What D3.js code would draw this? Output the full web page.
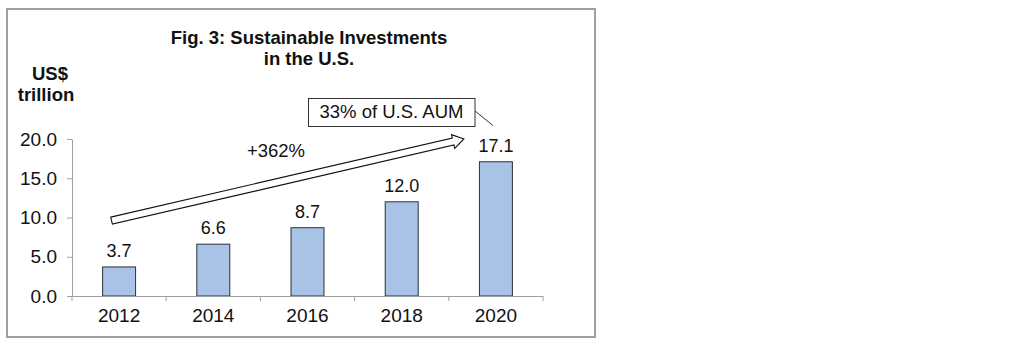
<!DOCTYPE html>
<html>
<head>
<meta charset="utf-8">
<script src="https://cdn.jsdelivr.net/npm/d3@7"></script>
<style>
  html, body { margin: 0; padding: 0; background: #fff; }
  svg { display: block; }
  text { font-family: "Liberation Sans", Arial, Helvetica, sans-serif; fill: #111; }
</style>
</head>
<body>
<svg id="chart" width="1024" height="346"></svg>
<script>
// ---- data ----
const categories = ["2012", "2014", "2016", "2018", "2020"];
const values = [3.7, 6.6, 8.7, 12.0, 17.1];
const yTicks = [0, 5, 10, 15, 20];
const titleLines = ["Fig. 3: Sustainable Investments", "in the U.S."];
const unitLines = ["US$", "trillion"];
const growthLabel = "+362%";
const calloutLabel = "33% of U.S. AUM";
// annotation anchors in data units: [category position (0 = left edge, in steps), value]
const arrowFrom = [0.42, 9.6];
const arrowTo = [4.16, 20.0];
const calloutLineTo = [4.47, 21.7];

// ---- layout ----
const svg = d3.select("#chart");
const plot = { left: 72, right: 543, top: 139, bottom: 296 };

// frame
svg.append("rect")
  .attr("x", 7).attr("y", 9).attr("width", 588).attr("height", 328)
  .attr("fill", "#fff").attr("stroke", "#a0a0a0").attr("stroke-width", 2);

const x = d3.scaleBand().domain(categories)
  .range([plot.left, plot.right]).paddingInner(0.65).paddingOuter(0.325);
const y = d3.scaleLinear().domain([0, 20]).range([plot.bottom, plot.top]);
const xPos = d3.scaleLinear().domain([0, categories.length]).range([plot.left, plot.right]);

// title
svg.append("g").selectAll("text").data(titleLines).join("text")
  .attr("x", 309).attr("y", (d, i) => 43.5 + i * 21)
  .attr("text-anchor", "middle").attr("font-size", 18.5).attr("font-weight", "bold")
  .text(d => d);

// unit label
svg.append("g").selectAll("text").data(unitLines).join("text")
  .attr("x", (d, i) => i === 0 ? 50 : 46).attr("y", (d, i) => 80 + i * 21)
  .attr("text-anchor", "middle").attr("font-size", 18.5).attr("font-weight", "bold")
  .text(d => d);

// y axis
const yAxis = svg.append("g").attr("transform", `translate(${plot.left},0)`)
  .call(d3.axisLeft(y).tickValues(yTicks).tickFormat(d3.format(".1f"))
    .tickSize(5).tickSizeOuter(0).tickPadding(10));
yAxis.select(".domain").attr("stroke", "#a0a0a0");
yAxis.selectAll(".tick line").attr("stroke", "#a0a0a0");
yAxis.selectAll("text").attr("font-size", 19).attr("fill", "#111")
  .attr("font-family", "'Liberation Sans', Arial, sans-serif");

// bars
svg.append("g").selectAll("rect").data(values).join("rect")
  .attr("x", (d, i) => x(categories[i]))
  .attr("y", d => y(d))
  .attr("width", x.bandwidth())
  .attr("height", d => y(0) - y(d))
  .attr("fill", "#a9c3e6").attr("stroke", "#2a2f3a").attr("stroke-width", 1);

// value labels
svg.append("g").selectAll("text").data(values).join("text")
  .attr("x", (d, i) => x(categories[i]) + x.bandwidth() / 2)
  .attr("y", d => y(d) - 10)
  .attr("text-anchor", "middle").attr("font-size", 18)
  .text(d => d3.format(".1f")(d));

// x axis
const xAxis = svg.append("g").attr("transform", `translate(0,${plot.bottom})`)
  .call(d3.axisBottom(x).tickSize(0).tickPadding(13));
xAxis.select(".domain").remove();
xAxis.selectAll("text").attr("font-size", 19).attr("fill", "#111")
  .attr("font-family", "'Liberation Sans', Arial, sans-serif");
svg.append("line")
  .attr("x1", plot.left).attr("x2", plot.right)
  .attr("y1", plot.bottom + 0.5).attr("y2", plot.bottom + 0.5)
  .attr("stroke", "#a0a0a0");
svg.append("g").selectAll("line").data(d3.range(categories.length + 1)).join("line")
  .attr("x1", d => xPos(d)).attr("x2", d => xPos(d))
  .attr("y1", plot.bottom).attr("y2", plot.bottom + 5)
  .attr("stroke", "#a0a0a0");

// growth arrow (hollow block arrow)
(function () {
  const x0 = xPos(arrowFrom[0]), y0 = y(arrowFrom[1]);
  const x1 = xPos(arrowTo[0]), y1 = y(arrowTo[1]);
  const L = Math.hypot(x1 - x0, y1 - y0);
  const ang = Math.atan2(y1 - y0, x1 - x0) * 180 / Math.PI;
  const w = 3.6, hw = 7, hl = 11;
  const pts = [[0, -w], [L - hl, -w], [L - hl, -hw], [L, 0], [L - hl, hw], [L - hl, w], [0, w]];
  svg.append("polygon")
    .attr("points", pts.map(p => p.join(",")).join(" "))
    .attr("transform", `translate(${x0},${y0}) rotate(${ang})`)
    .attr("fill", "#fff").attr("stroke", "#111").attr("stroke-width", 1.1);
})();

svg.append("text")
  .attr("x", 276).attr("y", 156.5)
  .attr("text-anchor", "middle").attr("font-size", 18.5)
  .text(growthLabel);

// callout
const callout = svg.append("g");
callout.append("rect")
  .attr("x", 308.5).attr("y", 98.5)
  .attr("width", 166.5).attr("height", 28)
  .attr("fill", "#fff").attr("stroke", "#333").attr("stroke-width", 1);
callout.append("text")
  .attr("x", 391.5).attr("y", 117.5)
  .attr("text-anchor", "middle").attr("font-size", 18.5)
  .text(calloutLabel);
svg.append("line")
  .attr("x1", 475).attr("y1", 111)
  .attr("x2", xPos(calloutLineTo[0])).attr("y2", y(calloutLineTo[1]))
  .attr("stroke", "#333").attr("stroke-width", 1);
</script>
</body>
</html>
